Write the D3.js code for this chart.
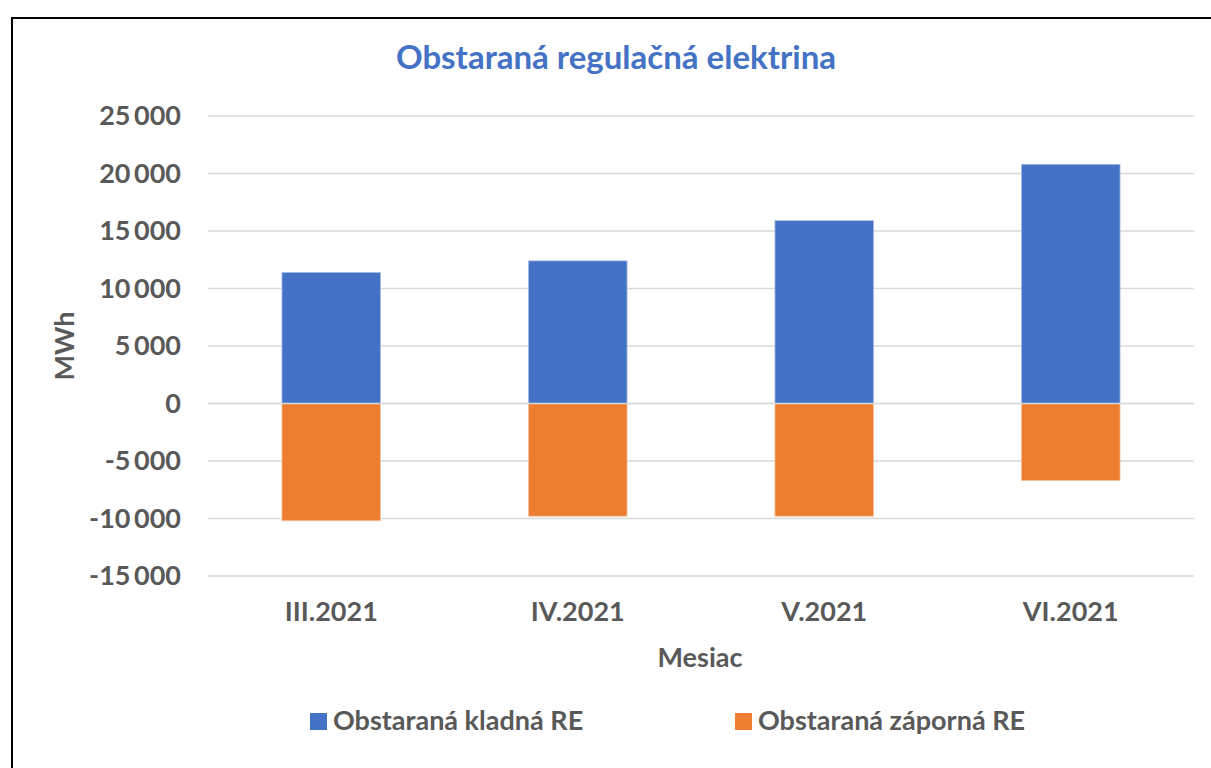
<!DOCTYPE html>
<html>
<head>
<meta charset="utf-8">
<script src="https://cdn.jsdelivr.net/npm/d3@7"></script>
<style>
  body { margin: 0; background: #fff; }
  svg { display: block; font-family: Lato, "Open Sans", sans-serif; }
</style>
</head>
<body>
<svg id="chart" width="1211" height="768"></svg>
<script>
// data
const months = ["III.2021", "IV.2021", "V.2021", "VI.2021"];
const positiveRE = [11400, 12400, 15900, 20800];
const negativeRE = [-10200, -9800, -9800, -6700];
const seriesNames = ["Obstaraná kladná RE", "Obstaraná záporná RE"];
const yTicks = [-15000, -10000, -5000, 0, 5000, 10000, 15000, 20000, 25000];

const colors = ["#4472C4", "#ED7D31"];
const textGrey = "#595959";
const labelSize = "27px";

const svg = d3.select("#chart");

// outer frame
svg.append("rect")
    .attr("x", 12).attr("y", 18)
    .attr("width", 1230).attr("height", 780)
    .attr("fill", "none")
    .attr("stroke", "#000")
    .attr("stroke-width", 2);

const x = d3.scaleBand()
    .domain(months)
    .range([208, 1194])
    .paddingInner(0.6)
    .paddingOuter(0.3);

const y = d3.scaleLinear()
    .domain([-15000, 25000])
    .range([576, 116]);

// "25 000", "-15 000" – space as thousands separator, plain hyphen
const fmt = v => d3.format(",")(v).replace(/,/g, " ").replace("\u2212", "-");

// gridlines
svg.append("g")
    .selectAll("line")
    .data(yTicks)
    .enter()
    .append("line")
        .attr("x1", 208).attr("x2", 1194)
        .attr("y1", d => y(d)).attr("y2", d => y(d))
        .attr("stroke", "#d9d9d9")
        .attr("stroke-width", 1.5);

// y axis, styled like Excel (no domain line / ticks)
const yAxis = svg.append("g")
    .attr("transform", "translate(192,0)")
    .call(d3.axisLeft(y).tickValues(yTicks).tickSize(0).tickFormat(fmt));
yAxis.select(".domain").remove();
yAxis.selectAll("text")
    .attr("x", -11)
    .attr("fill", textGrey)
    .style("font-family", "Lato, sans-serif")
    .style("font-size", labelSize)
    .style("font-weight", "700")
    .style("word-spacing", "-3px");

// bars
const bars = svg.append("g");
bars.selectAll("rect.pos")
    .data(positiveRE)
    .enter()
    .append("rect")
        .attr("class", "pos")
        .attr("x", (d, i) => x(months[i]))
        .attr("width", x.bandwidth())
        .attr("y", d => y(d))
        .attr("height", d => y(0) - y(d))
        .attr("fill", colors[0])
        .attr("stroke", "#a9bde6")
        .attr("stroke-width", 0.8);

bars.selectAll("rect.neg")
    .data(negativeRE)
    .enter()
    .append("rect")
        .attr("class", "neg")
        .attr("x", (d, i) => x(months[i]))
        .attr("width", x.bandwidth())
        .attr("y", y(0))
        .attr("height", d => y(d) - y(0))
        .attr("fill", colors[1])
        .attr("stroke", "#f6c4a2")
        .attr("stroke-width", 0.8);

// zero line on top
svg.append("line")
    .attr("x1", 208).attr("x2", 1194)
    .attr("y1", y(0)).attr("y2", y(0))
    .attr("stroke", "#d9d9d9")
    .attr("stroke-width", 1.5);

// x axis labels
const xAxis = svg.append("g")
    .attr("transform", "translate(0,600)")
    .call(d3.axisBottom(x).tickSize(0));
xAxis.select(".domain").remove();
xAxis.selectAll("text")
    .attr("y", 21)
    .attr("dy", 0)
    .attr("fill", textGrey)
    .style("font-family", "Lato, sans-serif")
    .style("font-size", labelSize)
    .style("font-weight", "700");

// title
svg.append("text")
    .attr("x", 616).attr("y", 69)
    .attr("text-anchor", "middle")
    .attr("fill", colors[0])
    .style("font-size", "33px")
    .style("font-weight", "700")
    .text("Obstaraná regulačná elektrina");

// axis titles
svg.append("text")
    .attr("x", 700).attr("y", 667)
    .attr("text-anchor", "middle")
    .attr("fill", textGrey)
    .style("font-size", labelSize)
    .style("font-weight", "700")
    .text("Mesiac");

svg.append("text")
    .attr("transform", "translate(74,346) rotate(-90)")
    .attr("text-anchor", "middle")
    .attr("fill", textGrey)
    .style("font-size", labelSize)
    .style("font-weight", "700")
    .text("MWh");

// legend
const legendX = [310, 735];
const legend = svg.append("g")
    .selectAll("g")
    .data(seriesNames)
    .enter()
    .append("g")
        .attr("transform", (d, i) => `translate(${legendX[i]},730)`);
legend.append("rect")
    .attr("x", 0).attr("y", -17)
    .attr("width", 17).attr("height", 17)
    .attr("fill", (d, i) => colors[i]);
legend.append("text")
    .attr("x", 23).attr("y", 0)
    .attr("fill", textGrey)
    .style("font-size", labelSize)
    .style("font-weight", "700")
    .text(d => d);
</script>
</body>
</html>
